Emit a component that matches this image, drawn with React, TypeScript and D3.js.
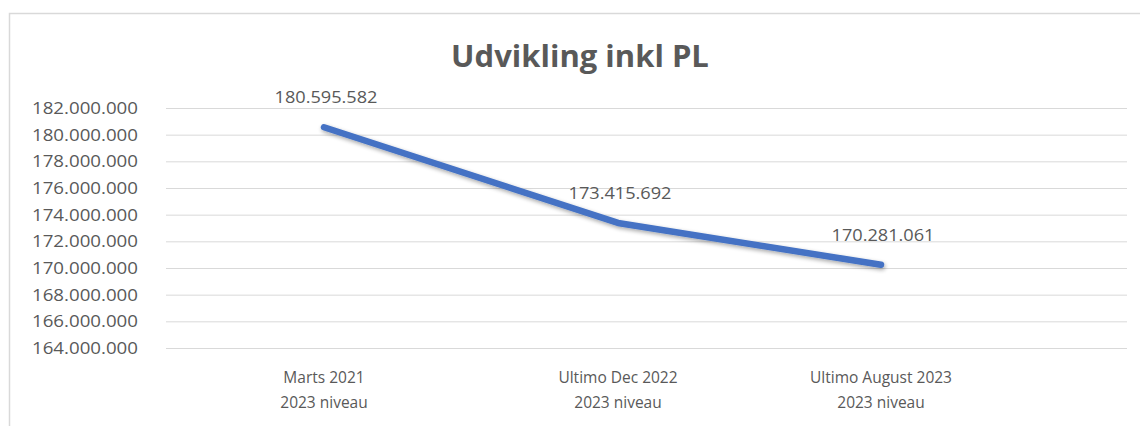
import React from "react";
import * as d3 from "d3";

const categories: string[][] = [
  ["Marts 2021", "2023 niveau"],
  ["Ultimo Dec 2022", "2023 niveau"],
  ["Ultimo August 2023", "2023 niveau"],
];
const values: number[] = [180595582, 173415692, 170281061];
const yTicks: number[] = [164e6, 166e6, 168e6, 170e6, 172e6, 174e6, 176e6, 178e6, 180e6, 182e6];
const title = "Udvikling inkl PL";

const W = 1140;
const H = 426;
const FONT = "'Open Sans', 'Liberation Sans', sans-serif";
const TEXT = "#595959";

const fmt = (v: number) => d3.format(",.0f")(v).replace(/,/g, ".");

export default function App() {
  const y = d3.scaleLinear().domain([164e6, 182e6]).range([348.5, 108.5]);
  const x = d3.scaleLinear().domain([0, 1, 2]).range([324, 618, 881]);
  const plotLeft = 166;
  const plotRight = 1127;

  const line = d3
    .line<number>()
    .x((_, i) => x(i))
    .y((d) => y(d));

  return (
    <svg
      width={W}
      height={H}
      style={{ position: "absolute", left: 0, top: 0, background: "#fff" }}
      fontFamily={FONT}
    >
      <defs>
        <filter id="sh" x="-10%" y="-30%" width="120%" height="160%">
          <feGaussianBlur in="SourceAlpha" stdDeviation="2" />
          <feOffset dx="1" dy="2" result="b" />
          <feComponentTransfer>
            <feFuncA type="linear" slope="0.35" />
          </feComponentTransfer>
          <feMerge>
            <feMergeNode />
            <feMergeNode in="SourceGraphic" />
          </feMerge>
        </filter>
      </defs>
      <rect x={9.5} y={13.5} width={W} height={H} fill="#fff" stroke="#d9d9d9" strokeWidth={1.5} />
      <text
        x={580}
        y={67}
        textAnchor="middle"
        fontSize={31}
        fontWeight="bold"
        fill={TEXT}
      >
        {title}
      </text>
      {yTicks.map((t) => (
        <g key={t}>
          <line x1={plotLeft} x2={plotRight} y1={y(t)} y2={y(t)} stroke="#d9d9d9" strokeWidth={1} />
          <text
            x={138}
            y={y(t)}
            dy="0.36em"
            textAnchor="end"
            fontSize={15.5}
            fill={TEXT}
            textLength={106}
            lengthAdjust="spacingAndGlyphs"
          >
            {fmt(t)}
          </text>
        </g>
      ))}
      <path
        d={line(values) || ""}
        fill="none"
        stroke="#4472C4"
        strokeWidth={6.5}
        strokeLinecap="round"
        strokeLinejoin="round"
        filter="url(#sh)"
      />
      {values.map((v, i) => (
        <text
          key={i}
          x={x(i) + 2}
          y={y(v) - 24}
          textAnchor="middle"
          fontSize={16}
          fill={TEXT}
          textLength={103}
          lengthAdjust="spacingAndGlyphs"
        >
          {fmt(v)}
        </text>
      ))}
      {categories.map((c, i) => (
        <text key={i} x={x(i)} textAnchor="middle" fontSize={15.5} fill={TEXT}>
          <tspan x={x(i)} y={383}>{c[0]}</tspan>
          <tspan x={x(i)} y={408}>{c[1]}</tspan>
        </text>
      ))}
    </svg>
  );
}
